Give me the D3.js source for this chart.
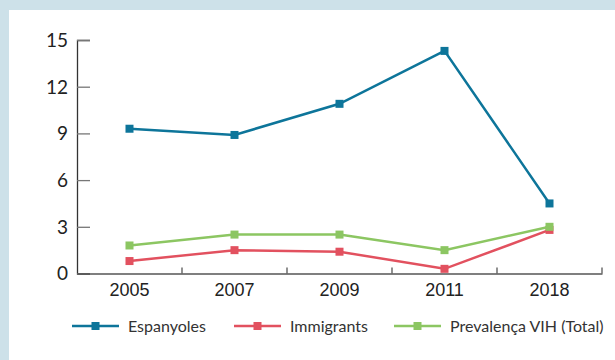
<!DOCTYPE html>
<html>
<head>
<meta charset="utf-8">
<script src="https://cdn.jsdelivr.net/npm/d3@7"></script>
<style>
  body { margin: 0; background: #cde1e9; }
  svg { display: block; font-family: Lato, "Open Sans", sans-serif; }
</style>
</head>
<body>
<div id="chart"></div>
<script>
const years = ["2005", "2007", "2009", "2011", "2018"];
const espanyoles = [9.3, 8.9, 10.9, 14.3, 4.5];
const immigrants = [0.8, 1.5, 1.4, 0.3, 2.8];
const vihTotal = [1.8, 2.5, 2.5, 1.5, 3.0];
const yTicks = [0, 3, 6, 9, 12, 15];
const seriesNames = ["Espanyoles", "Immigrants", "Prevalença VIH (Total)"];

const series = [
  { name: seriesNames[0], values: espanyoles, color: "#0d759a" },
  { name: seriesNames[1], values: immigrants, color: "#e2515f" },
  { name: seriesNames[2], values: vihTotal, color: "#8cc662" },
];

//size
const width = 615;
const height = 360;
const margin = { top: 40, left: 77, right: 13, bottom: 86.5 };
const innerWidth = width - margin.left - margin.right;
const innerHeight = height - margin.top - margin.bottom;

const svg = d3.select("#chart").append("svg")
  .attr("width", width)
  .attr("height", height);

// white panel
svg.append("rect")
  .attr("x", 9).attr("y", 10)
  .attr("width", width - 9).attr("height", height - 10)
  .attr("fill", "#fff");

const xScale = d3.scaleBand().domain(years).range([0, innerWidth]);
const yScale = d3.scaleLinear().domain([0, 15]).range([innerHeight, 0]);

const g = svg.append("g").attr("transform", `translate(${margin.left},${margin.top})`);

// y axis
g.append("g")
  .call(d3.axisRight(yScale).tickValues(yTicks).tickSize(13))
  .call((a) => {
    a.selectAll(".tick text").remove();
    a.select(".domain").attr("stroke", "#333").attr("stroke-width", 1.3);
    a.selectAll(".tick line").attr("stroke", "#777").attr("stroke-width", 1.3);
  });

g.append("g")
  .selectAll("text")
  .data(yTicks)
  .join("text")
  .attr("x", -9)
  .attr("y", (d) => yScale(d))
  .attr("dy", "0.36em")
  .attr("text-anchor", "end")
  .attr("font-size", 19)
  .attr("fill", "#222")
  .text((d) => d);

// x axis
g.append("g")
  .attr("transform", `translate(0,${innerHeight})`)
  .call(d3.axisTop(xScale).tickSize(0))
  .call((a) => {
    a.select(".domain").attr("stroke", "#555").attr("stroke-width", 1.3);
    a.selectAll(".tick").remove();
  })
  .call((a) => {
    a.selectAll("line.bnd")
      .data(years.slice(1).concat(["end"]))
      .join("line")
      .attr("class", "bnd")
      .attr("x1", (d, i) => (i + 1) * xScale.step())
      .attr("x2", (d, i) => (i + 1) * xScale.step())
      .attr("y1", 0)
      .attr("y2", -6)
      .attr("stroke", "#555")
      .attr("stroke-width", 1.3);
    a.selectAll("text.lbl")
      .data(years)
      .join("text")
      .attr("class", "lbl")
      .attr("x", (d) => xScale(d) + xScale.bandwidth() / 2)
      .attr("y", 22)
      .attr("text-anchor", "middle")
      .attr("font-size", 18)
      .attr("fill", "#222")
      .text((d) => d);
  });

const line = d3.line()
  .x((d, i) => xScale(years[i]) + xScale.bandwidth() / 2)
  .y((d) => yScale(d));

series.forEach((s) => {
  g.append("path")
    .datum(s.values)
    .attr("fill", "none")
    .attr("stroke", s.color)
    .attr("stroke-width", 2.5)
    .attr("d", line);
  g.selectAll(null)
    .data(s.values)
    .join("rect")
    .attr("x", (d, i) => xScale(years[i]) + xScale.bandwidth() / 2 - 4)
    .attr("y", (d) => yScale(d) - 4)
    .attr("width", 8)
    .attr("height", 8)
    .attr("fill", s.color);
});

// legend
const legendX = [72, 234, 394];
const legend = svg.append("g").attr("transform", "translate(0,326)");
series.forEach((s, i) => {
  const lg = legend.append("g").attr("transform", `translate(${legendX[i]},0)`);
  lg.append("line")
    .attr("x1", 0).attr("x2", 47)
    .attr("stroke", s.color).attr("stroke-width", 2.5);
  lg.append("rect")
    .attr("x", 19.5).attr("y", -4)
    .attr("width", 8).attr("height", 8)
    .attr("fill", s.color);
  lg.append("text")
    .attr("x", 56).attr("dy", "0.35em")
    .attr("font-size", 16)
    .attr("fill", "#333")
    .text(s.name);
});
</script>
</body>
</html>
